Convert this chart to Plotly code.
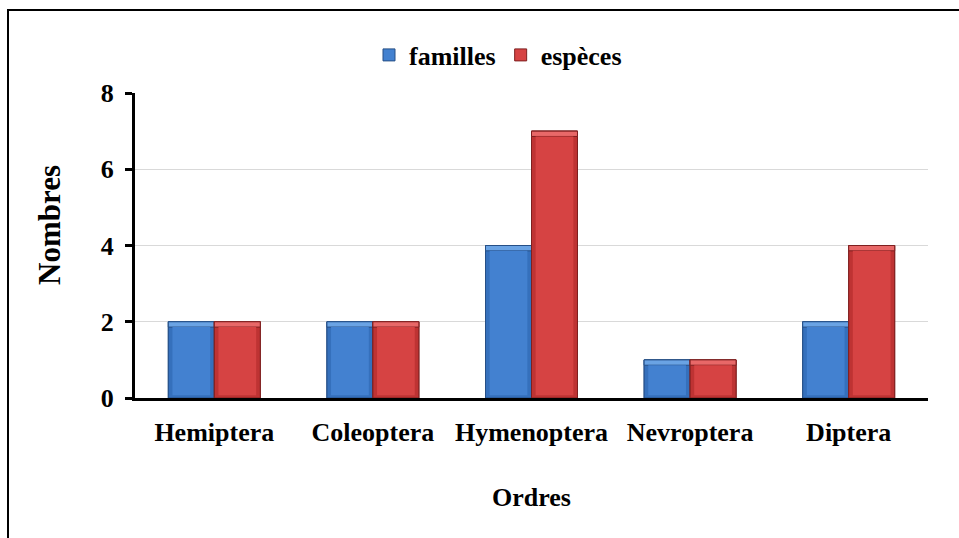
import plotly.graph_objects as go

# Insect orders and counts
ordres = ["Hemiptera", "Coleoptera", "Hymenoptera", "Nevroptera", "Diptera"]
familles = [2, 2, 4, 1, 2]
especes = [2, 2, 7, 1, 4]
y_ticks = [0, 2, 4, 6, 8]

W, H = 959, 538
ML, MR, MT, MB = 135, 31, 93, 140
PW, PH = W - ML - MR, H - MT - MB

FONT = "Liberation Serif, Times New Roman, serif"

# bar geometry in category units and bevel sizes in data units
BAR_W = 0.29
SIDE = 0.026
TOP = 0.14
BOTTOM = 0.07

series = [
    dict(name="familles", values=familles, offset=-BAR_W,
         edge="#3570BC", top="#6AA3E4", face="#4381D0", line="#264F86"),
    dict(name="espèces", values=especes, offset=0.0,
         edge="#BE3333", top="#E86868", face="#D64343", line="#7E2020"),
]

fig = go.Figure()
for s in series:
    vals = s["values"]
    n = len(vals)
    # full bar (legend entry)
    fig.add_trace(go.Bar(
        name=s["name"], x=ordres, y=vals,
        offset=s["offset"], width=BAR_W,
        marker=dict(color=s["face"], line=dict(color=s["line"], width=1)),
        legendgroup=s["name"],
    ))
    # darker bevel sides
    fig.add_trace(go.Bar(
        x=ordres, y=vals, offset=s["offset"], width=BAR_W,
        marker=dict(color=s["edge"], line=dict(color=s["line"], width=1)),
        showlegend=False, hoverinfo="skip", legendgroup=s["name"],
    ))
    # lighter top bevel
    fig.add_trace(go.Bar(
        x=ordres, y=[TOP] * n, base=[v - TOP for v in vals],
        offset=s["offset"], width=BAR_W,
        marker=dict(color=s["top"], line=dict(color=s["line"], width=1)),
        showlegend=False, hoverinfo="skip", legendgroup=s["name"],
    ))
    # front face
    fig.add_trace(go.Bar(
        x=ordres, y=[v - TOP - BOTTOM for v in vals], base=[BOTTOM] * n,
        offset=s["offset"] + SIDE, width=BAR_W - 2 * SIDE,
        marker=dict(color=s["face"], line=dict(width=0)),
        showlegend=False, hoverinfo="skip", legendgroup=s["name"],
    ))

def px_to_paper_x(px):
    return (px - ML) / PW

def px_to_paper_y(py):
    return (H - MB - py) / PH

# outer chart frame
fig.add_shape(type="rect", xref="paper", yref="paper",
              x0=px_to_paper_x(8), x1=px_to_paper_x(975),
              y0=px_to_paper_y(560), y1=px_to_paper_y(10),
              line=dict(color="black", width=2), fillcolor="rgba(0,0,0,0)", layer="below")

# vertical axis title
fig.add_annotation(text="Nombres", xref="paper", yref="paper",
                   x=px_to_paper_x(50), y=px_to_paper_y(225),
                   xanchor="center", yanchor="middle",
                   textangle=-90, showarrow=False,
                   font=dict(family=FONT, size=31, color="black", weight="bold"))

fig.update_layout(
    width=W, height=H,
    margin=dict(l=ML, r=MR, t=MT, b=MB, pad=0),
    paper_bgcolor="white", plot_bgcolor="white",
    barmode="overlay",
    font=dict(family=FONT, size=26, color="black"),
    showlegend=True,
    legend=dict(orientation="h", x=px_to_paper_x(369), xanchor="left",
                y=px_to_paper_y(55), yanchor="middle",
                font=dict(family=FONT, size=26, color="black", weight="bold"),
                bgcolor="rgba(0,0,0,0)", itemwidth=30, traceorder="normal"),
    xaxis=dict(
        showline=True, linecolor="black", linewidth=3,
        ticks="", tickfont=dict(family=FONT, size=26, weight="bold"),
        ticklabelstandoff=9,
        title=dict(text="Ordres", font=dict(family=FONT, size=26, weight="bold"), standoff=42),
    ),
    yaxis=dict(
        range=[0, 8], tickvals=y_ticks,
        showline=True, linecolor="black", linewidth=3,
        ticks="outside", ticklen=7, tickwidth=3, tickcolor="black",
        showgrid=True, gridcolor="#D9D9D9", gridwidth=1,
        zeroline=False,
        tickfont=dict(family=FONT, size=26, weight="bold"),
        ticklabelstandoff=6,
    ),
)

fig.write_html("out.html")
